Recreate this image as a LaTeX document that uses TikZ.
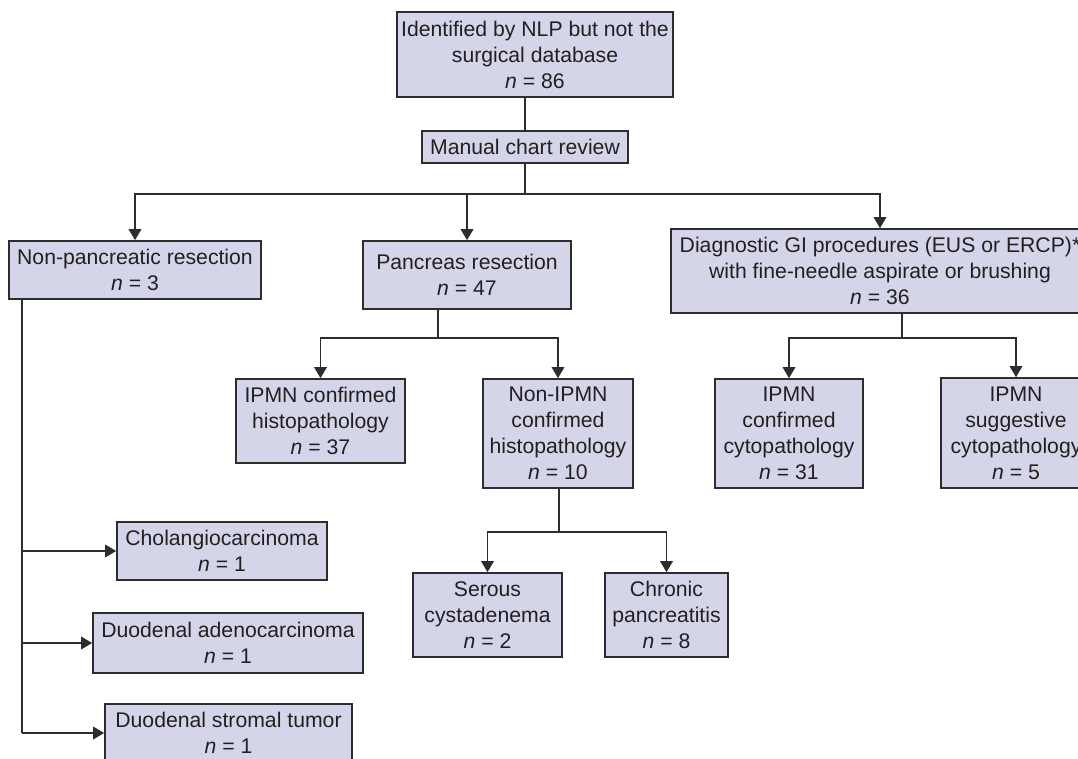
\documentclass[tikz,border=0pt]{standalone}
\usepackage{fontspec}
\setmainfont{Liberation Sans}
\usetikzlibrary{arrows.meta,calc}
\definecolor{boxfill}{RGB}{213,213,234}
\definecolor{boxline}{RGB}{45,45,45}
\definecolor{txt}{RGB}{35,31,32}
\begin{document}
\begin{tikzpicture}[x=1pt,y=-1pt,
  box/.style={draw=boxline, fill=boxfill, line width=1.6pt, align=center,
    inner sep=0pt, text=txt, font=\fontsize{21.2}{26}\selectfont},
  conn/.style={draw=boxline, line width=1.6pt},
  arr/.style={conn, -{Triangle[width=12.5pt,length=11pt]}}]
\useasboundingbox (0,0) rectangle (1078,759);
\clip (0,0) rectangle (1078,759);
\fill[white] (0,0) rectangle (1078,759);
\newcommand{\nn}[1]{\textit{n} = #1}

\node[box, minimum width=276, minimum height=85] (top) at (535,54.5)
  {Identified by NLP but not the\\surgical database\\\nn{86}};
\node[box, minimum width=206, minimum height=32] (manual) at (525,147) {Manual chart review};

\node[box, minimum width=252, minimum height=58] (nonpanc) at (135,270)
  {Non-pancreatic resection\\\nn{3}};
\node[box, minimum width=208, minimum height=68] (panc) at (467,275)
  {Pancreas resection\\\nn{47}};
\node[box, minimum width=418, minimum height=84] (diag) at (880,271)
  {Diagnostic GI procedures (EUS or ERCP)*\\with fine-needle aspirate or brushing\\\nn{36}};

\node[box, minimum width=169, minimum height=84] (histo) at (320.5,421)
  {IPMN confirmed\\histopathology\\\nn{37}};
\node[box, minimum width=150, minimum height=109] (nonipmn) at (558,433.5)
  {Non-IPMN\\confirmed\\histopathology\\\nn{10}};
\node[box, minimum width=148, minimum height=109] (cyto) at (789,433.5)
  {IPMN\\confirmed\\cytopathology\\\nn{31}};
\node[box, minimum width=150, minimum height=110] (sugg) at (1016,433)
  {IPMN\\suggestive\\cytopathology\\\nn{5}};

\node[box, minimum width=149, minimum height=84] (serous) at (487.5,615)
  {Serous\\cystadenema\\\nn{2}};
\node[box, minimum width=123, minimum height=84] (chronic) at (666.5,615)
  {Chronic\\pancreatitis\\\nn{8}};

\node[box, minimum width=210, minimum height=58] (chol) at (222,551)
  {Cholangiocarcinoma\\\nn{1}};
\node[box, minimum width=270, minimum height=60] (duoad) at (228,643)
  {Duodenal adenocarcinoma\\\nn{1}};
\node[box, minimum width=247, minimum height=58] (duost) at (228.5,733)
  {Duodenal stromal tumor\\\nn{1}};

% junction points
\coordinate (j1) at (525,194);
\coordinate (j2) at (438,338);
\coordinate (j3) at (902,338);
\coordinate (j4) at (559,532);
\coordinate (l0) at (22,299);

\draw[conn] (manual.north |- top.south) -- (manual.north);
\draw[conn] (manual.south) -- (j1);
\draw[arr] (j1) -| (nonpanc.north);
\draw[arr] (j1) -| (panc.north);
\draw[arr] (j1) -| (diag.north);

\draw[conn] (panc.south -| j2) -- (j2);
\draw[arr] (j2) -| (histo.north);
\draw[arr] (j2) -| (nonipmn.north);

\draw[conn] (diag.south -| j3) -- (j3);
\draw[arr] (j3) -| (cyto.north);
\draw[arr] (j3) -| (sugg.north);

\draw[conn] (j4 |- nonipmn.south) -- (j4);
\draw[arr] (j4) -| (serous.north);
\draw[arr] (j4) -| (chronic.north);

\draw[conn] (l0 |- nonpanc.south) -- (l0 |- duost.west);
\draw[arr] (l0 |- chol.west) -- (chol.west);
\draw[arr] (l0 |- duoad.west) -- (duoad.west);
\draw[arr] (l0 |- duost.west) -- (duost.west);
\end{tikzpicture}
\end{document}
